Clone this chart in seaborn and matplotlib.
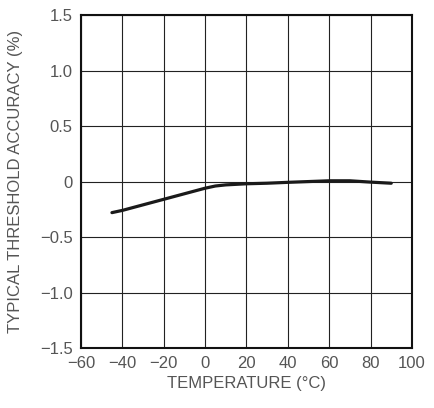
import matplotlib
matplotlib.use("Agg")
import matplotlib.pyplot as plt
import seaborn as sns
import pandas as pd

# typical threshold accuracy vs temperature
temperature = [-45, -40, -30, -20, -10, 0, 5, 10, 20, 30, 40, 50, 60, 70, 80, 90]
accuracy = [-0.28, -0.26, -0.21, -0.16, -0.11, -0.06, -0.04, -0.03, -0.02,
            -0.015, -0.007, 0.0, 0.007, 0.007, -0.005, -0.015]

x_ticks = [-60, -40, -20, 0, 20, 40, 60, 80, 100]
y_ticks = [-1.5, -1.0, -0.5, 0, 0.5, 1.0, 1.5]
y_labels = ["\u22121.5", "\u22121.0", "\u22120.5", "0", "0.5", "1.0", "1.5"]

df = pd.DataFrame({"temp": temperature, "acc": accuracy})

sns.set_style("white")
plt.rcParams['font.family'] = ['Liberation Sans', 'DejaVu Sans']

fig = plt.figure(figsize=(4.35, 4.08), dpi=100)
ax = fig.add_axes([0.186, 0.147, 0.761, 0.816])

sns.lineplot(data=df, x="temp", y="acc", color="#1a1a1a", linewidth=2.3, ax=ax)

ax.set_xlim(-60, 100)
ax.set_ylim(-1.5, 1.5)
ax.set_xticks(x_ticks)
ax.set_xticklabels([str(t).replace("-", "\u2212") for t in x_ticks])
ax.set_yticks(y_ticks)
ax.set_yticklabels(y_labels)
ax.grid(True, color="#222222", linewidth=0.8)
ax.tick_params(length=0, labelsize=12, labelcolor="#555555", pad=6)

for s in ax.spines.values():
    s.set_color("#111111")
    s.set_linewidth(1.5)

ax.set_xlabel("TEMPERATURE (\u00b0C)", fontsize=12, color="#555555", labelpad=3)
ax.set_ylabel("TYPICAL THRESHOLD ACCURACY (%)", fontsize=12, color="#555555", labelpad=12)

fig.savefig("out.png", dpi=100)
